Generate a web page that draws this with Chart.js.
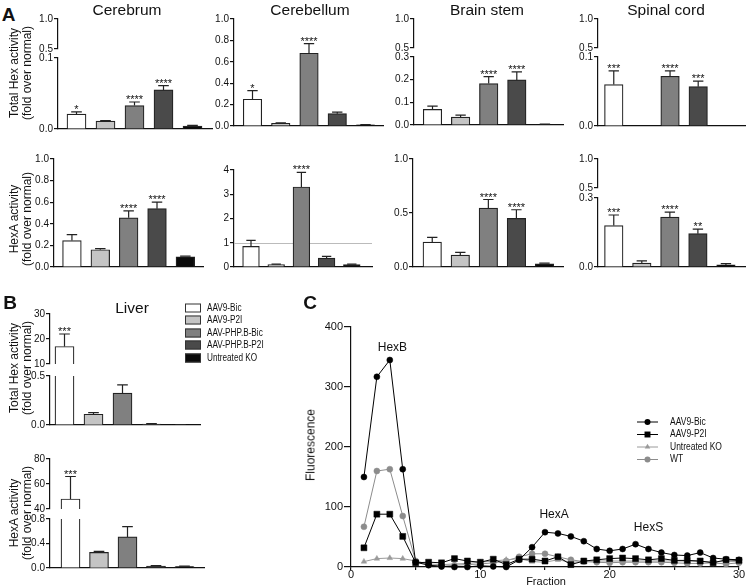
<!DOCTYPE html>
<html>
<head>
<meta charset="utf-8">
<script src="https://cdn.jsdelivr.net/npm/chart.js@4.4.0/dist/chart.umd.min.js"></script>
<style>
  body { margin: 0; background: #fff; }
  #fig { position: relative; width: 747px; height: 588px; overflow: hidden;
         font-family: "Liberation Sans", Arial, sans-serif; color: #111; }
  #fig canvas { position: absolute; }
  .t { position: absolute; white-space: nowrap; line-height: 1; transform: translate(-50%, -50%); }
  .rot { transform: translate(-50%, -50%) rotate(-90deg); text-align: center; line-height: 13px; }
  .leg { position: absolute; white-space: nowrap; line-height: 1; transform: translate(0, -50%) scaleX(0.82);
         transform-origin: 0 50%; font-size: 10px; }
  .box { position: absolute; width: 14px; height: 7px; border: 1px solid #333; transform: translate(0, -50%); }
</style>
</head>
<body>
<div id="fig"></div>
<script>
// ---------- data ----------
const groups = ["AAV9-Bic", "AAV9-P2I", "AAV-PHP.B-Bic", "AAV-PHP.B-P2I", "Untreated KO"];
const groupIdx = [0, 1, 2, 3, 4];

// A, top row: total Hex activity (fold over normal) - mean, SEM, significance
const totCerebrum = [0.021, 0.011, 0.033, 0.055, 0.004];
const totCerebrumSem = [0.003, 0.001, 0.005, 0.006, 0.001];
const totCerebrumSig = ["*", "", "****", "****", ""];
const totCerebellum = [0.25, 0.025, 0.68, 0.115, 0.01];
const totCerebellumSem = [0.08, 0.005, 0.09, 0.015, 0.003];
const totCerebellumSig = ["*", "", "****", "", ""];
const totBrainstem = [0.069, 0.035, 0.183, 0.199, 0.003];
const totBrainstemSem = [0.014, 0.009, 0.03, 0.035, 0.001];
const totBrainstemSig = ["", "", "****", "****", ""];
const totSpinal = [0.060, null, 0.072, 0.057, null];
const totSpinalSem = [0.020, 0, 0.008, 0.008, 0];
const totSpinalSig = ["***", "", "****", "***", ""];

// A, bottom row: HexA activity (fold over normal)
const hexaCerebrum = [0.245, 0.16, 0.455, 0.54, 0.095];
const hexaCerebrumSem = [0.055, 0.01, 0.065, 0.06, 0.005];
const hexaCerebrumSig = ["", "", "****", "****", ""];
const hexaCerebellum = [0.85, 0.1, 3.3, 0.37, 0.1];
const hexaCerebellumSem = [0.25, 0.02, 0.6, 0.07, 0.02];
const hexaCerebellumSig = ["", "", "****", "", ""];
const hexaBrainstem = [0.23, 0.11, 0.545, 0.45, 0.03];
const hexaBrainstemSem = [0.045, 0.025, 0.08, 0.08, 0.005];
const hexaBrainstemSig = ["", "", "****", "****", ""];
const hexaSpinal = [0.18, 0.017, 0.217, 0.145, 0.009];
const hexaSpinalSem = [0.046, 0.01, 0.022, 0.02, 0.006];
const hexaSpinalSig = ["***", "", "****", "**", ""];

// B: liver
const liverTot = [17, 0.11, 0.325, 0.01, 0.003];
const liverTotSem = [5, 0.017, 0.085, 0.005, 0.001];
const liverTotSig = ["***", "", "", "", ""];
const liverHexa = [48, 0.255, 0.507, 0.03, 0.025];
const liverHexaSem = [18, 0.015, 0.17, 0.01, 0.005];
const liverHexaSig = ["***", "", "", "", ""];

// tick values (first / last also set the axis range)
const tkBreakTop = [0.5, 1.0];
const tk01 = [0, 0.1];
const tk03 = [0, 0.1, 0.2, 0.3];
const tk0to1 = [0, 0.2, 0.4, 0.6, 0.8, 1.0];
const tkCerebellumA = [0, 1, 2, 3, 4];
const tkHalf = [0, 0.5, 1.0];
const tkSpinalA = [0, 0.3];
const tkLiverTotTop = [10, 20, 30];
const tkLiverTotBot = [0, 0.5];
const tkLiverAtop = [40, 60, 80];
const tkLiverAbot = [0, 0.4, 0.8];

// C: fluorescence per fraction
const fraction = [1,2,3,4,5,6,7,8,9,10,11,12,13,14,15,16,17,18,19,20,21,22,23,24,25,26,27,28,29,30];
const flBic = [150,317,345,163,8,3,1,0,0,2,1,0,12,33,58,56,51,43,30,27,30,38,30,24,20,19,24,15,13,12];
const flP2I = [32,88,88,51,7,8,7,14,10,8,13,4,13,13,10,17,4,10,12,14,15,14,12,14,11,11,10,7,12,11];
const flKO = [9,14,15,14,10,5,4,5,6,8,10,12,14,9,8,12,8,9,10,10,10,10,10,10,10,10,9,9,9,9];
const flWT = [67,160,163,85,10,4,1,3,4,5,7,10,17,22,22,17,12,9,8,7,8,8,8,8,7,6,6,7,5,7];
const fractionTicks = [0, 5, 10, 15, 20, 25, 30];
const fluorTicks = [0, 100, 200, 300, 400];
const peakNames = ["HexB", "HexA", "HexS"];
const peakFraction = [3.2, 15.7, 23];
const peakLevel = [365, 87, 65];

// ---------- helpers ----------
const fig = document.getElementById("fig");
const FILLS = ["#ffffff", "#c4c4c4", "#808080", "#4a4a4a", "#0a0a0a"];
const INK = "#111";
const FONT = "Liberation Sans, Arial, sans-serif";

function addCanvas(left, top, w, h) {
  const c = document.createElement("canvas");
  c.width = Math.round(w); c.height = Math.round(h);
  c.style.left = left + "px"; c.style.top = top + "px";
  c.style.width = Math.round(w) + "px"; c.style.height = Math.round(h) + "px";
  fig.appendChild(c);
  return c;
}

function label(html, x, y, size, cls, bold) {
  const d = document.createElement("div");
  d.className = cls || "t";
  d.innerHTML = html;
  d.style.left = x + "px"; d.style.top = y + "px";
  d.style.fontSize = size + "px";
  if (bold) d.style.fontWeight = "bold";
  fig.appendChild(d);
  return d;
}

// error bars (mean + SEM), significance stars, optional reference line
function barExtras(sem, sig, refLine) {
  return {
    id: "barExtras",
    beforeDatasetsDraw(chart) {
      if (refLine == null) return;
      const { ctx, chartArea: a, scales: { y } } = chart;
      const py = Math.round(y.getPixelForValue(refLine)) + 0.5;
      ctx.save();
      ctx.strokeStyle = "#bbb"; ctx.lineWidth = 1;
      ctx.beginPath(); ctx.moveTo(a.left, py); ctx.lineTo(a.right, py); ctx.stroke();
      ctx.restore();
    },
    afterDatasetsDraw(chart) {
      const { ctx, chartArea: a, scales: { y } } = chart;
      const meta = chart.getDatasetMeta(0);
      const data = chart.data.datasets[0].data;
      meta.data.forEach((bar, i) => {
        const v = data[i].y;
        if (v == null) return;
        const top = v + sem[i];
        const yv = y.getPixelForValue(v), ye = y.getPixelForValue(top);
        const cap = bar.width * 0.28;
        ctx.save();
        ctx.beginPath(); ctx.rect(a.left - 20, a.top, a.width + 40, a.height); ctx.clip();
        if (sem[i] > 0) {
          ctx.strokeStyle = "#222"; ctx.lineWidth = 1.2;
          ctx.beginPath();
          ctx.moveTo(bar.x, yv); ctx.lineTo(bar.x, ye);
          ctx.moveTo(bar.x - cap, ye); ctx.lineTo(bar.x + cap, ye);
          ctx.stroke();
        }
        ctx.restore();
        if (sig[i] && top <= y.max && top >= y.min) {
          ctx.save();
          ctx.fillStyle = INK; ctx.font = "11px " + FONT;
          ctx.textAlign = "center"; ctx.textBaseline = "alphabetic";
          ctx.fillText(sig[i], bar.x, ye + 1);
          ctx.restore();
        }
      });
    }
  };
}

function barChart(g, vals, sem, sig, ticks, dec, xAxis, refLine) {
  const YW = 26, PT = 8, PB = 7, PR = 3;
  const plotW = g.right - g.axisX, plotH = g.yBot - g.yTop;
  const c = addCanvas(g.axisX - YW, g.yTop - PT, YW + plotW + PR, PT + plotH + PB);
  const xmin = -(g.x0 - g.axisX) / g.step;
  const xmax = xmin + plotW / g.step;
  new Chart(c, {
    type: "bar",
    data: {
      datasets: [{
        data: groupIdx.map((k, i) => ({ x: k, y: vals[i] })),
        backgroundColor: FILLS, borderColor: "#222", borderWidth: 1.2,
        barThickness: g.thick, clip: 0
      }]
    },
    options: {
      responsive: false, animation: false, devicePixelRatio: 1,
      layout: { padding: { top: PT, right: PR, bottom: PB, left: 0 }, autoPadding: false },
      plugins: { legend: { display: false }, tooltip: { enabled: false } },
      scales: {
        x: {
          type: "linear", min: xmin, max: xmax, offset: false,
          grid: { display: false, offset: false }, ticks: { display: false },
          border: { display: xAxis, color: INK, width: 1.2 },
          afterFit: s => { s.height = 0; s.paddingLeft = 0; s.paddingRight = 0; }
        },
        y: {
          min: ticks[0], max: ticks[ticks.length - 1],
          afterBuildTicks: s => { s.ticks = ticks.map(v => ({ value: v })); },
          afterFit: s => { s.width = YW; s.paddingTop = 0; s.paddingBottom = 0; },
          grid: { drawOnChartArea: false, color: INK, tickLength: 4, lineWidth: 1.2 },
          border: { color: INK, width: 1.2 },
          ticks: { font: { family: FONT, size: 10 }, color: INK, padding: 1, autoSkip: false,
                   callback: v => Number(v).toFixed(dec) }
        }
      }
    },
    plugins: [barExtras(sem, sig, refLine)]
  });
}

// ---------- panel A ----------
// Cerebrum (broken axis)
barChart({ axisX: 58, yTop: 18.5, yBot: 48, right: 212, x0: 76.5, step: 29, thick: 19 },
  totCerebrum, totCerebrumSem, totCerebrumSig, tkBreakTop, 1, false);
barChart({ axisX: 58, yTop: 58, yBot: 129.3, right: 212, x0: 76.5, step: 29, thick: 19 },
  totCerebrum, totCerebrumSem, totCerebrumSig, tk01, 1, true);
// Cerebellum
barChart({ axisX: 234, yTop: 19, yBot: 125.7, right: 383, x0: 252.5, step: 28.25, thick: 18.5 },
  totCerebellum, totCerebellumSem, totCerebellumSig, tk0to1, 1, true);
// Brain stem (broken axis)
barChart({ axisX: 414, yTop: 19, yBot: 48, right: 563, x0: 432.5, step: 28.1, thick: 18.5 },
  totBrainstem, totBrainstemSem, totBrainstemSig, tkBreakTop, 1, false);
barChart({ axisX: 414, yTop: 57.3, yBot: 125.7, right: 563, x0: 432.5, step: 28.1, thick: 18.5 },
  totBrainstem, totBrainstemSem, totBrainstemSig, tk03, 1, true);
// Spinal cord (broken axis)
barChart({ axisX: 597.7, yTop: 19, yBot: 48, right: 745, x0: 613.5, step: 28.2, thick: 18.5 },
  totSpinal, totSpinalSem, totSpinalSig, tkBreakTop, 1, false);
barChart({ axisX: 597.7, yTop: 57.3, yBot: 126, right: 745, x0: 613.5, step: 28.2, thick: 18.5 },
  totSpinal, totSpinalSem, totSpinalSig, tk01, 1, true);

// HexA row
barChart({ axisX: 54.3, yTop: 159.3, yBot: 267.3, right: 203, x0: 72.2, step: 28.3, thick: 18.7 },
  hexaCerebrum, hexaCerebrumSem, hexaCerebrumSig, tk0to1, 1, true);
barChart({ axisX: 234, yTop: 170, yBot: 267.3, right: 372, x0: 251, step: 25.2, thick: 16.7 },
  hexaCerebellum, hexaCerebellumSem, hexaCerebellumSig, tkCerebellumA, 0, true, 1);
barChart({ axisX: 413.3, yTop: 159.3, yBot: 267.3, right: 563, x0: 432.5, step: 28, thick: 18.5 },
  hexaBrainstem, hexaBrainstemSem, hexaBrainstemSig, tkHalf, 1, true);
barChart({ axisX: 597.7, yTop: 159.3, yBot: 188.3, right: 745, x0: 613.5, step: 28.1, thick: 18.5 },
  hexaSpinal, hexaSpinalSem, hexaSpinalSig, tkBreakTop, 1, false);
barChart({ axisX: 597.7, yTop: 198.3, yBot: 267.3, right: 745, x0: 613.5, step: 28.1, thick: 18.5 },
  hexaSpinal, hexaSpinalSem, hexaSpinalSig, tkSpinalA, 1, true);

// ---------- panel B ----------
barChart({ axisX: 50, yTop: 314.3, yBot: 364, right: 200, x0: 64.5, step: 29, thick: 19 },
  liverTot, liverTotSem, liverTotSig, tkLiverTotTop, 0, false);
barChart({ axisX: 50, yTop: 375.7, yBot: 424.3, right: 200, x0: 64.5, step: 29, thick: 19 },
  liverTot, liverTotSem, liverTotSig, tkLiverTotBot, 1, true);
barChart({ axisX: 50, yTop: 459.3, yBot: 509, right: 204, x0: 70.5, step: 28.5, thick: 19 },
  liverHexa, liverHexaSem, liverHexaSig, tkLiverAtop, 0, false);
barChart({ axisX: 50, yTop: 519.3, yBot: 568.3, right: 204, x0: 70.5, step: 28.5, thick: 19 },
  liverHexa, liverHexaSem, liverHexaSig, tkLiverAbot, 1, true);

// ---------- panel C ----------
const C = { axisX: 351, yTop: 327, yBot: 567, right: 739 };
const cYW = 40, cPT = 10, cPR = 7, cXH = 20;
const cLeft = C.axisX - cYW, cTop = C.yTop - cPT;

function drawMarker(ctx, style, x, y, r, color) {
  ctx.fillStyle = color;
  ctx.beginPath();
  if (style === "rect") {
    const s = r * Math.SQRT1_2;
    ctx.rect(x - s, y - s, 2 * s, 2 * s);
  } else if (style === "triangle") {
    ctx.moveTo(x, y - r);
    ctx.lineTo(x + r * 0.866, y + r * 0.5);
    ctx.lineTo(x - r * 0.866, y + r * 0.5);
    ctx.closePath();
  } else {
    ctx.arc(x, y, r, 0, Math.PI * 2);
  }
  ctx.fill();
}

const cExtras = {
  id: "cExtras",
  afterDraw(chart) {
    const { ctx, scales: { x, y } } = chart;
    ctx.save();
    ctx.fillStyle = INK;
    ctx.font = "12px " + FONT;
    ctx.textAlign = "center"; ctx.textBaseline = "middle";
    peakNames.forEach((n, i) =>
      ctx.fillText(n, x.getPixelForValue(peakFraction[i]), y.getPixelForValue(peakLevel[i])));
    // legend
    const lx = 637 - cLeft, ly = 422 - cTop;
    chart.data.datasets.forEach((ds, i) => {
      const yy = ly + i * 12.5;
      ctx.strokeStyle = ds.borderColor; ctx.lineWidth = 1;
      ctx.beginPath(); ctx.moveTo(lx, yy); ctx.lineTo(lx + 21, yy); ctx.stroke();
      drawMarker(ctx, ds.pointStyle, lx + 10.5, yy, ds.pointRadius, ds.pointBackgroundColor);
      ctx.fillStyle = INK;
      ctx.font = "10px " + FONT;
      ctx.textAlign = "left";
      ctx.save();
      ctx.translate(lx + 33, yy);
      ctx.scale(0.85, 1);
      ctx.fillText(ds.label, 0, 0);
      ctx.restore();
    });
    ctx.restore();
  }
};

function series(lbl, vals, color, style, r) {
  return {
    label: lbl, data: fraction.map((f, i) => ({ x: f, y: vals[i] })),
    borderColor: color, borderWidth: 1, pointStyle: style, pointRadius: r,
    pointBackgroundColor: color, pointBorderColor: color, pointBorderWidth: 0.5,
    tension: 0, clip: false
  };
}

const cCanvas = addCanvas(cLeft, cTop, cYW + (C.right - C.axisX) + cPR, cPT + (C.yBot - C.yTop) + cXH);
new Chart(cCanvas, {
  type: "line",
  data: {
    datasets: [
      series("AAV9-Bic", flBic, "#000", "circle", 3),
      series("AAV9-P2I", flP2I, "#000", "rect", 4.2),
      series("Untreated KO", flKO, "#9a9a9a", "triangle", 3.2),
      series("WT", flWT, "#8c8c8c", "circle", 3)
    ]
  },
  options: {
    responsive: false, animation: false, devicePixelRatio: 1,
    layout: { padding: { top: cPT, right: cPR, bottom: 0, left: 0 }, autoPadding: false },
    plugins: { legend: { display: false }, tooltip: { enabled: false } },
    scales: {
      x: {
        type: "linear", min: fractionTicks[0], max: fractionTicks[fractionTicks.length - 1],
        afterBuildTicks: s => { s.ticks = fractionTicks.map(v => ({ value: v })); },
        afterFit: s => { s.height = cXH; s.paddingLeft = 0; s.paddingRight = 0; },
        grid: { drawOnChartArea: false, color: INK, tickLength: 3, lineWidth: 1.2 },
        border: { color: INK, width: 1.2 },
        ticks: { font: { family: FONT, size: 11 }, color: INK, padding: -2, autoSkip: false, maxRotation: 0,
                 callback: v => (v % 10 === 0 ? String(v) : "") }
      },
      y: {
        min: fluorTicks[0], max: fluorTicks[fluorTicks.length - 1],
        afterBuildTicks: s => { s.ticks = fluorTicks.map(v => ({ value: v })); },
        afterFit: s => { s.width = cYW; s.paddingTop = 0; s.paddingBottom = 0; },
        grid: { drawOnChartArea: false, color: INK, tickLength: 7, lineWidth: 1.2 },
        border: { color: INK, width: 1.2 },
        ticks: { font: { family: FONT, size: 11 }, color: INK, padding: 1, autoSkip: false }
      }
    }
  },
  plugins: [cExtras]
});

// ---------- text ----------
label("A", 8.5, 13.5, 19, "t", true);
label("B", 10, 302, 19, "t", true);
label("C", 310, 302, 19, "t", true);

[["Cerebrum", 127], ["Cerebellum", 310], ["Brain stem", 487], ["Spinal cord", 666]]
  .forEach(([s, x]) => label(s, x, 9.5, 15.5));
label("Liver", 132, 307.5, 15.5);

label("Total Hex activity<br>(fold over normal)", 20.5, 73, 12, "t rot");
label("HexA activity<br>(fold over normal)", 20.5, 218.5, 12, "t rot");
label("Total Hex activity<br>(fold over normal)", 20.5, 367.5, 12, "t rot");
label("HexA activity<br>(fold over normal)", 20.5, 512.5, 12, "t rot");
label("Fluorescence", 311, 445, 12, "t rot");
label("Fraction", 546, 581, 11);

// legend B
groups.forEach((gname, i) => {
  const y = 307.7 + i * 12.5;
  const b = document.createElement("div");
  b.className = "box";
  b.style.left = "185px"; b.style.top = y + "px";
  b.style.background = FILLS[i];
  fig.appendChild(b);
  label(gname, 207, y, 10, "leg");
});
</script>
</body>
</html>
